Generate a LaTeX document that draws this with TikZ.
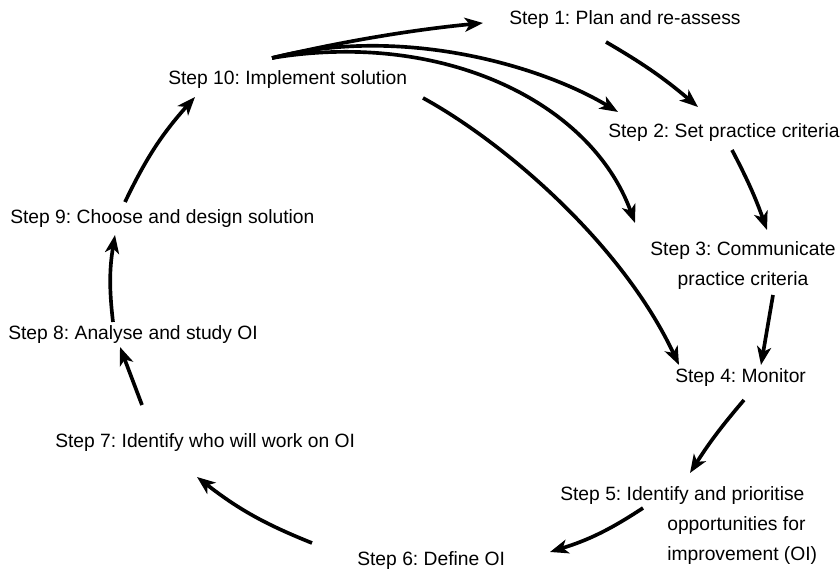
\documentclass[tikz,border=0pt]{standalone}
\usepackage{fontspec}
\setmainfont{Liberation Sans}
\usetikzlibrary{arrows.meta}
\frenchspacing

\begin{document}
\begin{tikzpicture}[x=0.025cm, y=-0.025cm,
    every node/.style={inner sep=0pt, font=\fontsize{13.7}{21.3}\selectfont},
    flow/.style={line width=2.6pt, -{Stealth[length=13pt, width=10pt, inset=3.5pt]}}]
    % Fix the frame
    \useasboundingbox (0,0) rectangle (840,569);

    % Place the steps round the cycle
    \node[anchor=base west] (S1) at (509,25) {Step 1: Plan and re-assess};
    \node[anchor=base west] (S2) at (608,138) {Step 2: Set practice criteria};
    \node[anchor=north, align=center] (S3) at (743,241) {Step 3: Communicate\\practice criteria};
    \node[anchor=base west] (S4) at (675,383) {Step 4: Monitor};
    \node[anchor=north west, align=left] (S5) at (560,486) {Step 5: Identify and prioritise\\\hspace*{2.675cm}opportunities for\\\hspace*{2.675cm}improvement (OI)};
    \node[anchor=base west] (S6) at (357,565) {Step 6: Define OI};
    \node[anchor=base west] (S7) at (55,447) {Step 7: Identify who will work on OI};
    \node[anchor=base west] (S8) at (8,340) {Step 8: Analyse and study OI};
    \node[anchor=base west] (S9) at (10,224) {Step 9: Choose and design solution};
    \node[anchor=base west] (S10) at (168,85) {Step 10: Implement solution};

    % Arrows fanning out from step 10
    \draw[flow] ([shift={(104,-27)}]S10.base west) .. controls (340,42) and (410,30) .. ([shift={(-26,-2)}]S1.base west);
    \draw[flow] ([shift={(104,-27)}]S10.base west) .. controls (400,25) and (540,65) .. ([shift={(10,-26)}]S2.base west);
    \draw[flow] ([shift={(104,-27)}]S10.base west) .. controls (440,30) and (590,100) .. ([shift={(-108,-18)}]S3.north);
    \draw[flow] ([shift={(255,13)}]S10.base west) .. controls (500,140) and (620,240) .. ([shift={(4,-18)}]S4.base west);

    % Arrows round the cycle
    \draw[flow] ([shift={(97,17)}]S1.base west) to[bend left=5] ([shift={(90,-31)}]S2.base west);
    \draw[flow] ([shift={(124,12)}]S2.base west) to[bend left=4] ([shift={(24,-11)}]S3.north);
    \draw[flow] ([shift={(30,54)}]S3.north) -- ([shift={(86,-18)}]S4.base west);
    \draw[flow] ([shift={(69,17)}]S4.base west) to[bend right=4] ([shift={(130,-13)}]S5.north west);
    \draw[flow] ([shift={(83,22)}]S5.north west) to[bend left=8] ([shift={(193,-13)}]S6.base west);
    \draw[flow] ([shift={(-45,-22)}]S6.base west) to[bend left=8] ([shift={(142,30)}]S7.base west);
    \draw[flow] ([shift={(87,-42)}]S7.base west) -- ([shift={(112,7)}]S8.base west);
    \draw[flow] ([shift={(105,-18)}]S8.base west) to[bend left=8] ([shift={(105,11)}]S9.base west);
    \draw[flow] ([shift={(115,-22)}]S9.base west) to[bend left=8] ([shift={(27,12)}]S10.base west);
\end{tikzpicture}
\end{document}
